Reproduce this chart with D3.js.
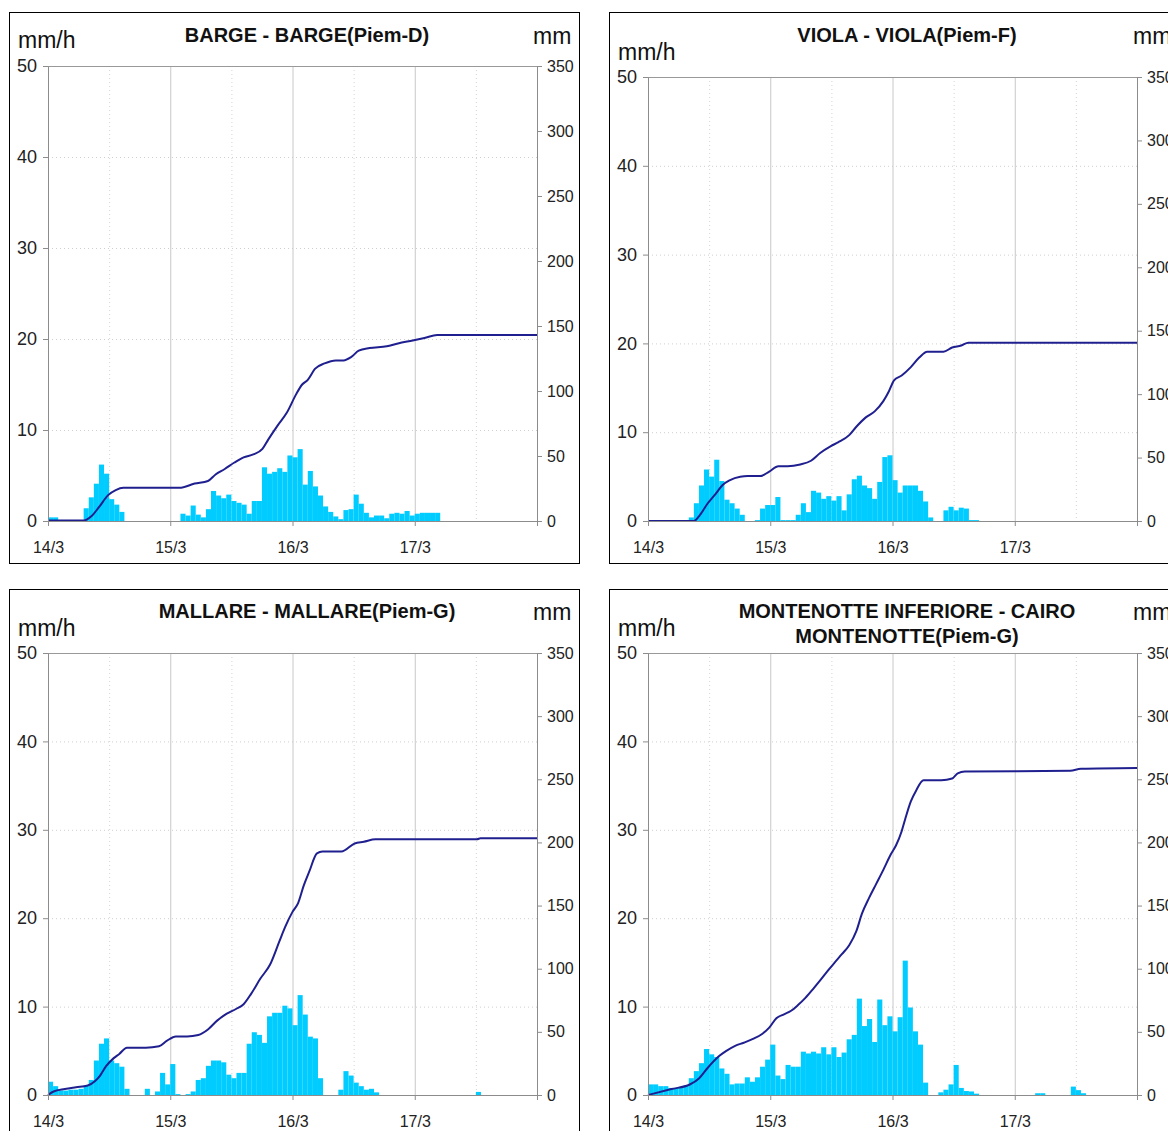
<!DOCTYPE html>
<html>
<head>
<meta charset="utf-8">
<script src="https://cdn.jsdelivr.net/npm/d3@7"></script>
<style>
body { margin: 0; background: #fff; }
svg { display: block; font-family: "Liberation Sans", Arial, sans-serif; }
</style>
</head>
<body>
<svg id="chart"></svg>
<script>
// hourly rain in mm/h, hour 0 = 14/3 00:00, one row per day
let bargeRain = [
    0.4, 0.4, 0, 0, 0, 0, 0, 1.4, 2.6, 4.1, 6.2, 5.2, 2.4, 1.8, 1.0, 0, 0, 0, 0, 0, 0, 0, 0, 0,
    0, 0, 0.8, 0.6, 1.7, 0.7, 0.4, 1.3, 3.3, 2.8, 2.5, 2.9, 2.2, 2.0, 1.8, 0.8, 2.2, 2.2, 5.9, 5.2, 5.4, 5.8, 5.4, 7.2,
    7.0, 7.9, 4.0, 5.5, 3.8, 2.8, 1.6, 1.0, 0.5, 0.2, 1.2, 1.3, 2.9, 1.9, 0.9, 0.4, 0.6, 0.6, 0.3, 0.8, 0.9, 0.8, 1.1, 0.6,
    0.8, 0.9, 0.9, 0.9, 0.9, 0, 0, 0, 0, 0, 0, 0, 0, 0, 0, 0, 0, 0, 0, 0, 0, 0, 0, 0
]
let violaRain = [
    0, 0, 0, 0, 0, 0, 0, 0, 0.4, 2.0, 4.0, 5.8, 5.0, 6.9, 4.5, 2.4, 2.0, 1.4, 0.7, 0, 0, 0.1, 1.4, 1.8,
    1.8, 2.7, 0.1, 0.1, 0.1, 0.7, 2.0, 1.0, 3.4, 3.2, 2.5, 2.8, 2.3, 2.8, 1.2, 3.0, 4.7, 5.1, 4.0, 3.7, 2.5, 4.4, 7.2, 7.4,
    4.6, 3.2, 4.0, 4.0, 4.0, 3.4, 2.2, 0.4, 0, 0, 1.2, 1.6, 1.2, 1.5, 1.4, 0.1, 0.1, 0, 0, 0, 0, 0, 0, 0,
    0, 0, 0, 0, 0, 0, 0, 0, 0, 0, 0, 0, 0, 0, 0, 0, 0, 0, 0, 0, 0, 0, 0, 0
]
let mallareRain = [
    1.5, 1.0, 0.5, 0.5, 0.6, 0.6, 0.7, 1.1, 1.7, 3.9, 5.8, 6.4, 3.9, 3.6, 3.2, 0.7, 0, 0, 0, 0.7, 0, 0.4, 2.5, 1.2,
    3.5, 0.1, 0, 0.1, 0.4, 1.7, 1.9, 3.3, 3.9, 3.9, 3.7, 2.3, 1.9, 2.5, 2.5, 5.8, 7.1, 6.8, 5.9, 8.9, 9.3, 9.3, 10.1, 9.8,
    7.9, 11.3, 9.1, 6.6, 6.4, 1.9, 0, 0, 0, 0.6, 2.7, 2.2, 1.4, 1.0, 0.6, 0.7, 0.3, 0, 0, 0, 0, 0, 0, 0,
    0, 0, 0, 0, 0, 0, 0, 0, 0, 0, 0, 0, 0.35, 0, 0, 0, 0, 0, 0, 0, 0, 0, 0, 0
]
let montenotteRain = [
    1.2, 1.2, 1.0, 1.0, 0.8, 0.8, 0.9, 1.1, 1.9, 2.7, 3.6, 5.2, 4.6, 4.3, 3.0, 2.4, 1.2, 1.3, 1.3, 2.0, 1.5, 2.0, 3.2, 4.0,
    5.7, 2.2, 1.8, 3.4, 3.2, 3.2, 4.9, 4.7, 4.9, 4.7, 5.4, 4.6, 5.4, 4.3, 4.8, 6.3, 6.8, 10.9, 7.8, 8.6, 6.0, 10.8, 7.9, 8.9,
    7.2, 8.8, 15.2, 9.9, 7.2, 5.7, 1.4, 0, 0, 0.3, 0.6, 1.2, 3.4, 0.8, 0.45, 0.4, 0.15, 0, 0, 0, 0, 0, 0, 0,
    0, 0, 0, 0, 0.2, 0.2, 0, 0, 0, 0, 0, 0.95, 0.55, 0.2, 0, 0, 0, 0, 0, 0, 0, 0, 0, 0
]

// cumulated rain (mm): hours since 14/3 00:00 and values
let bargeCumHours = [0, 7, 8.5, 10, 11.8, 13.3, 14.8, 25.8, 28.8, 31.4, 32.9, 34.7, 36.6, 38.4, 40.3, 42.1, 43.2, 45.1, 46.9, 48.7, 49.9, 51, 52.4, 54.3, 56.5, 58, 59.5, 61, 63.1, 66.5, 68.7, 71.6, 73.9, 76.4, 96]
let bargeCumMm = [0.3, 0.3, 3.6, 10.6, 19.9, 23.8, 25.5, 25.5, 28.8, 30.8, 35.8, 40, 45, 49, 51.2, 55.4, 62.4, 73.6, 83.4, 97.4, 105, 108.6, 117, 121.2, 123.5, 123.5, 126, 131, 133, 134.4, 136.6, 138.9, 140.8, 143, 143]

let violaCumHours = [0, 9, 10, 11.7, 13.2, 14.6, 16, 18.1, 19.6, 22, 23.8, 25.6, 27.4, 29.9, 32, 33.8, 35.9, 37.3, 39.5, 40.9, 42.7, 44.5, 46.2, 47.3, 48.3, 49.8, 51.6, 53.3, 54.8, 58, 59.7, 61.5, 62.9, 96]
let violaCumMm = [0, 0, 3.7, 13.8, 21, 28.2, 32, 34.9, 35.4, 35.4, 38.9, 43.2, 43.2, 44.6, 47.5, 53.6, 59, 62, 67.7, 74.3, 81.5, 86.4, 94.5, 102.3, 110.9, 114.7, 121.3, 129, 133.4, 133.4, 136.8, 138.3, 140.6, 140.6]

let mallareCumHours = [0, 1.1, 3.3, 5.5, 7.8, 9.2, 10.3, 11.4, 12.9, 14.0, 15.5, 19.2, 21.8, 23.3, 25.1, 27.3, 29.5, 31.4, 33.2, 35.1, 36.9, 38.4, 39.9, 41.7, 43.6, 45.4, 46.5, 48.0, 49.1, 50.2, 51.3, 52.8, 53.9, 57.6, 60.2, 62, 64.3, 84.2, 84.9, 96]
let mallareCumMm = [0, 2.8, 4.7, 6.1, 7.5, 10.8, 15.8, 22.8, 29.2, 32.5, 37.5, 37.5, 38.6, 42.8, 46.4, 46.4, 47.5, 51.9, 58.9, 64.4, 68.1, 71.9, 80.3, 92.2, 103.3, 121.4, 132.5, 145, 152, 165.8, 177, 191.4, 192.8, 192.8, 199.2, 200.6, 202.5, 202.5, 203.3, 203.3]

let montenotteCumHours = [0, 4.6, 8.2, 10.0, 11.7, 13.9, 15.3, 17.1, 18.8, 20.6, 22.4, 23.8, 25.2, 26.7, 28.1, 29.5, 30.9, 32.4, 33.8, 35.2, 36.6, 38.1, 39.5, 40.9, 42.0, 43.4, 44.8, 46.2, 47.7, 48.7, 49.8, 50.5, 51.6, 52.6, 54.1, 57.6, 59.7, 60.8, 62.2, 82.9, 85, 96]
let montenotteCumMm = [0, 4.7, 8.3, 13.1, 21.4, 30.6, 34.7, 38.9, 41.4, 44.4, 48.3, 53.3, 60.8, 63.9, 66.7, 71.4, 76.9, 83.9, 90.8, 97.8, 104.7, 111.7, 118.6, 129.7, 143.6, 156.1, 167.2, 178.3, 190.8, 197.8, 208.9, 218.6, 232.5, 240.8, 249.2, 249.2, 250.6, 254.7, 256.1, 256.7, 258.3, 258.9]

// axis ticks and labels
let dayLabels = ['14/3', '15/3', '16/3', '17/3']
let rateTicks = [0, 10, 20, 30, 40, 50]
let totalTicks = [0, 50, 100, 150, 200, 250, 300, 350]

let titles = [
    ['BARGE - BARGE(Piem-D)'],
    ['VIOLA - VIOLA(Piem-F)'],
    ['MALLARE - MALLARE(Piem-G)'],
    ['MONTENOTTE INFERIORE - CAIRO', 'MONTENOTTE(Piem-G)']
]

let w = 1168
let h = 1131

let svg = d3.select('#chart')
svg.attr('width', w).attr('height', h)

// panel frame position, plot top/bottom inside frame, label baselines
let panels = [
    { x: 9, y: 12, top: 54, bottom: 509, titleY: [30], unitY: 36, mmY: 32, rain: bargeRain, hours: bargeCumHours, mm: bargeCumMm, title: titles[0] },
    { x: 609, y: 12, top: 65, bottom: 509, titleY: [30], unitY: 48, mmY: 32, rain: violaRain, hours: violaCumHours, mm: violaCumMm, title: titles[1] },
    { x: 9, y: 589, top: 64, bottom: 506, titleY: [29], unitY: 47, mmY: 31, rain: mallareRain, hours: mallareCumHours, mm: mallareCumMm, title: titles[2] },
    { x: 609, y: 589, top: 64, bottom: 506, titleY: [29, 54], unitY: 47, mmY: 31, rain: montenotteRain, hours: montenotteCumHours, mm: montenotteCumMm, title: titles[3] }
]

let left = 39
let right = 528

let drawPanel = (p) => {
    let g = svg.append('g').attr('transform', 'translate(' + p.x + ',' + p.y + ')')

    g.append('rect')
        .attr('x', 0.5).attr('y', 0.5)
        .attr('width', 570).attr('height', 551)
        .attr('fill', '#fff')
        .attr('stroke', '#000')

    let xScale = d3.scaleLinear().domain([0, 96]).range([left, right])
    let yScale = d3.scaleLinear().domain([0, 50]).range([p.bottom, p.top])
    let y2Scale = d3.scaleLinear().domain([0, 350]).range([p.bottom, p.top])

    // grid: dotted horizontals, solid day lines, dotted half days
    g.selectAll('.hgrid')
        .data(rateTicks.slice(1, -1))
        .enter()
        .append('line')
        .attr('x1', left).attr('x2', right)
        .attr('y1', (d) => yScale(d) + 0.5)
        .attr('y2', (d) => yScale(d) + 0.5)
        .attr('stroke', '#cfcfcf')
        .attr('stroke-dasharray', '1,3')

    g.selectAll('.vhalf')
        .data([12, 36, 60, 84])
        .enter()
        .append('line')
        .attr('x1', (d) => xScale(d) + 0.5).attr('x2', (d) => xScale(d) + 0.5)
        .attr('y1', p.top).attr('y2', p.bottom)
        .attr('stroke', '#d4d4d4')
        .attr('stroke-dasharray', '1,3')

    g.selectAll('.vday')
        .data([24, 48, 72])
        .enter()
        .append('line')
        .attr('x1', (d) => xScale(d) + 0.5).attr('x2', (d) => xScale(d) + 0.5)
        .attr('y1', p.top).attr('y2', p.bottom)
        .attr('stroke', '#c8c8c8')

    // top border of the plot
    g.append('line')
        .attr('x1', left).attr('x2', right)
        .attr('y1', p.top + 0.5).attr('y2', p.top + 0.5)
        .attr('stroke', '#999')

    // hourly bars
    g.selectAll('.bar')
        .data(p.rain.map((v, i) => [i, v]).filter((d) => d[1] > 0))
        .enter()
        .append('rect')
        .attr('x', (d) => xScale(d[0]))
        .attr('width', (d) => xScale(d[0] + 1) - xScale(d[0]))
        .attr('y', (d) => yScale(d[1]))
        .attr('height', (d) => p.bottom - yScale(d[1]))
        .attr('fill', '#00ccff')

    // cumulated line on the right scale
    let line = d3.line()
        .x((d) => xScale(d[0]))
        .y((d) => y2Scale(d[1]))
        .curve(d3.curveMonotoneX)

    g.append('path')
        .datum(p.hours.map((hr, i) => [hr, p.mm[i]]))
        .attr('d', line)
        .attr('fill', 'none')
        .attr('stroke', '#1f1f8f')
        .attr('stroke-width', 2)

    let yAxis = d3.axisLeft(yScale).tickValues(rateTicks).tickSize(5).tickSizeOuter(0).tickPadding(6)
    let y2Axis = d3.axisRight(y2Scale).tickValues(totalTicks).tickSize(5).tickSizeOuter(0).tickPadding(5)
    let xAxis = d3.axisBottom(xScale)
        .tickValues([0, 24, 48, 72, 96])
        .tickFormat((d) => dayLabels[d / 24] || '')
        .tickSize(5).tickSizeOuter(0).tickPadding(16)

    let ya = g.append('g').attr('transform', 'translate(' + left + ',0)').call(yAxis)
    ya.selectAll('text').attr('font-size', 18).attr('fill', '#222')

    let y2a = g.append('g').attr('transform', 'translate(' + right + ',0)').call(y2Axis)
    y2a.selectAll('text').attr('font-size', 16).attr('fill', '#222')

    let xa = g.append('g').attr('transform', 'translate(0,' + p.bottom + ')').call(xAxis)
    xa.selectAll('text').attr('font-size', 16).attr('fill', '#222')

    g.selectAll('.domain, .tick line').attr('stroke', '#8c8c8c')
    g.selectAll('.tick text').attr('font-family', '"Liberation Sans", Arial, sans-serif')

    // titles and unit labels
    p.title.forEach((t, i) => {
        g.append('text')
            .attr('x', 298)
            .attr('y', p.titleY[i])
            .attr('text-anchor', 'middle')
            .attr('font-size', 20)
            .attr('font-weight', 'bold')
            .attr('fill', '#111')
            .text(t)
    })

    g.append('text')
        .attr('x', 9)
        .attr('y', p.unitY)
        .attr('font-size', 23)
        .attr('fill', '#111')
        .text('mm/h')

    g.append('text')
        .attr('x', 524)
        .attr('y', p.mmY)
        .attr('font-size', 23)
        .attr('fill', '#111')
        .text('mm')
}

panels.forEach(drawPanel)
</script>
</body>
</html>
